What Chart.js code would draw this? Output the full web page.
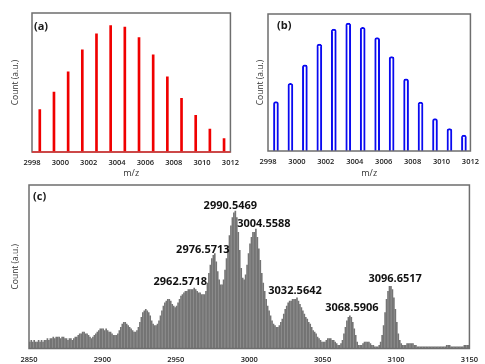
<!DOCTYPE html>
<html>
<head>
<meta charset="utf-8">
<script src="https://cdn.jsdelivr.net/npm/chart.js"></script>
<style>
body{margin:0;background:#fff}
#wrap{position:relative;width:485px;height:364px;overflow:hidden;background:#fff}
canvas{position:absolute}
#ca{left:0;top:0}
#cb{left:245px;top:0}
#cc{left:0;top:178px}
</style>
</head>
<body>
<div id="wrap">
<canvas id="ca" width="245" height="182"></canvas>
<canvas id="cb" width="240" height="182"></canvas>
<canvas id="cc" width="485" height="186"></canvas>
</div>

<script>
/* =========================
   DATA
========================= */
// isotope pattern, panels (a) and (b)
const isoMz=[2998.55,2999.55,3000.55,3001.55,3002.55,3003.55,3004.55,
             3005.55,3006.55,3007.55,3008.55,3009.55,3010.55,3011.55];
const countsA=[30.6,43.1,57.6,73.5,85.0,91.0,89.9,82.4,69.9,54.0,38.6,26.3,16.4,9.7];
const countsB=[36.0,49.4,62.9,78.0,89.0,93.4,90.2,82.7,69.0,52.6,35.7,23.7,16.4,11.7];
const ticksIso=[2998,3000,3002,3004,3006,3008,3010,3012];

// full spectrum, panel (c): one line per isotope, starting at specStart
const specStart=2850.55;
const specCounts=[
  4,5,4,5,4,4,5,4,5,4,        // 2850
  5,5,6,5,6,6,7,6,7,7,        // 2860
  7,6,7,7,6,6,5,6,6,5,        // 2870
  6,7,7,8,9,9,10,10,9,9,      // 2880
  8,7,6,7,8,9,10,11,12,12,    // 2890
  12,11,12,11,10,10,9,8,8,8,  // 2900
  9,11,13,15,16,16,15,14,13,12,   // 2910
  11,10,10,11,13,16,19,22,23,24,  // 2920
  23,22,20,17,15,14,14,15,17,20,  // 2930
  23,26,28,29,30,30,29,27,26,25,  // 2940
  26,28,30,32,33,34,35,35,36,36,  // 2950
  36,36,37,36,35,34,34,33,33,33,  // 2960
  35,40,46,51,55,57,58,53,47,42,  // 2970
  39,39,42,48,55,62,69,75,80,83,  // 2980
  84,80,71,60,49,43,42,45,51,58,  // 2990
  64,68,71,71,73,68,61,54,46,40,  // 3000
  35,30,26,23,20,17,15,14,13,13,  // 3010
  14,16,18,21,24,26,28,29,29,30,  // 3020
  30,30,31,29,27,25,23,21,19,18,  // 3030
  16,15,13,11,10,9,7,6,5,4,       // 3040
  4,4,5,6,6,6,5,5,4,3,            // 3050
  2,2,3,5,9,13,17,19,20,19,       // 3060
  16,12,8,4,2,2,2,3,4,4,          // 3070
  4,4,3,2,2,1,1,1,2,4,            // 3080
  8,14,22,30,35,38,38,36,31,24,   // 3090
  16,9,5,3,2,2,2,3,3,3,           // 3100
  3,3,2,2,1,1,1,1,1,1,            // 3110
  1,1,1,1,1,1,1,1,1,1,            // 3120
  1,1,1,1,2,2,2,1,1,1,            // 3130
  1,1,1,1,1,1,2,2,2,2             // 3140
];
const ticksSpec=[2850,2900,2950,3000,3050,3100,3150];

const peakText=["2962.5718","2976.5713","2990.5469","3004.5588","3032.5642","3068.5906","3096.6517"];
const peakMz=[2962.5718,2976.5713,2990.5469,3004.5588,3032.5642,3068.5906,3096.6517];

/* =========================
   PLUGINS
========================= */
Chart.defaults.font.family="'Open Sans', sans-serif";
Chart.defaults.color="#333";

// box round the plot area + panel letter
const frame={
  id:"frame",
  afterDatasetsDraw(chart,args,o){
    const {ctx,chartArea:a}=chart;
    ctx.save();
    ctx.strokeStyle="#6e6e6e";
    ctx.lineWidth=1.5;
    ctx.strokeRect(a.left,a.top,a.right-a.left,a.bottom-a.top);
    if(o.base){
      ctx.strokeStyle=o.base;
      ctx.beginPath();ctx.moveTo(a.left,a.bottom);ctx.lineTo(a.right,a.bottom);ctx.stroke();
    }
    ctx.fillStyle="#1a1a1a";
    ctx.font="bold 11px 'Open Sans', sans-serif";
    ctx.textBaseline="middle";
    ctx.fillText(o.letter,a.left+o.lx,a.top+o.ly);
    ctx.restore();
  }
};

// m/z tags over the main peaks (nudges in px)
const tagNudge=[[-14,-6.5],[-12,-4],[-5,-5.5],[8,-5],[-2,-7],[2,-8],[4,-8]];
const peakTags={
  id:"peakTags",
  afterDatasetsDraw(chart){
    const {ctx,scales}=chart;
    ctx.save();
    ctx.fillStyle="#111";
    ctx.font="bold 11px 'Open Sans', sans-serif";
    ctx.textAlign="center";
    ctx.textBaseline="middle";
    peakText.forEach((t,i)=>{
      const v=specCounts[Math.round(peakMz[i]-specStart)];
      const x=scales.x.getPixelForValue(peakMz[i])+tagNudge[i][0];
      const y=scales.y.getPixelForValue(v)+tagNudge[i][1];
      ctx.fillText(t,x,y);
    });
    ctx.restore();
  }
};

/* =========================
   CHART BUILDER
========================= */
function panel(id,cfg){
  return new Chart(document.getElementById(id),{
    type:"bar",
    data:{datasets:[Object.assign({data:cfg.x.map((m,i)=>({x:m,y:cfg.y[i]}))},cfg.ds)]},
    options:{
      responsive:false,animation:false,events:[],
      layout:{padding:cfg.pad},
      plugins:{legend:{display:false},tooltip:{enabled:false},frame:cfg.frame},
      scales:{
        x:{
          type:"linear",min:cfg.min,max:cfg.max,offset:false,
          afterBuildTicks:s=>{s.ticks=cfg.ticks.map(v=>({value:v}));},
          afterFit:s=>{s.height=cfg.xh;},
          grid:{display:false,drawTicks:false},border:{display:false},
          ticks:{padding:cfg.tp,font:{size:7.5,weight:"600"},color:"#222",maxRotation:0,autoSkip:false,
                 callback:v=>String(v)},
          title:{display:cfg.xtitle,text:"m/z",font:{size:9},color:"#333",padding:{top:0,bottom:3.6}}
        },
        y:{
          min:0,max:100,
          afterFit:s=>{s.width=cfg.yw;},
          grid:{display:false,drawTicks:false},border:{display:false},
          ticks:{display:false},
          title:{display:true,text:"Count (a.u.)",font:{size:8.5},color:"#333",padding:{top:10,bottom:0}}
        }
      }
    },
    plugins:cfg.extra||[frame]
  });
}

/* =========================
   PANELS
========================= */
panel("ca",{
  x:isoMz,y:countsA,min:2998,max:3012,ticks:ticksIso,
  ds:{backgroundColor:"#f00000",barThickness:2,borderWidth:0},
  pad:{top:13,right:6,left:0,bottom:0},xh:30,yw:32,tp:6,xtitle:true,
  frame:{letter:"(a)",lx:2,ly:14,base:"#e03030"}
});

panel("cb",{
  x:isoMz,y:countsB,min:2998,max:3012,ticks:ticksIso,
  ds:{backgroundColor:"#ffffff",borderColor:"#0a0af0",borderWidth:2,barThickness:5,
      borderSkipped:"bottom",borderRadius:{topLeft:2.5,topRight:2.5}},
  pad:{top:14,right:7,left:0,bottom:0},xh:31,yw:23,tp:6,xtitle:true,
  frame:{letter:"(b)",lx:9,ly:12}
});

panel("cc",{
  x:specCounts.map((v,i)=>specStart+i),y:specCounts,min:2850,max:3150,ticks:ticksSpec,
  ds:{backgroundColor:"#747474",barThickness:1,borderWidth:0},
  pad:{top:7,right:5,left:0,bottom:0},xh:15.5,yw:29,tp:7,xtitle:false,
  frame:{letter:"(c)",lx:4,ly:12},
  extra:[frame,peakTags]
});
</script>
</body>
</html>
